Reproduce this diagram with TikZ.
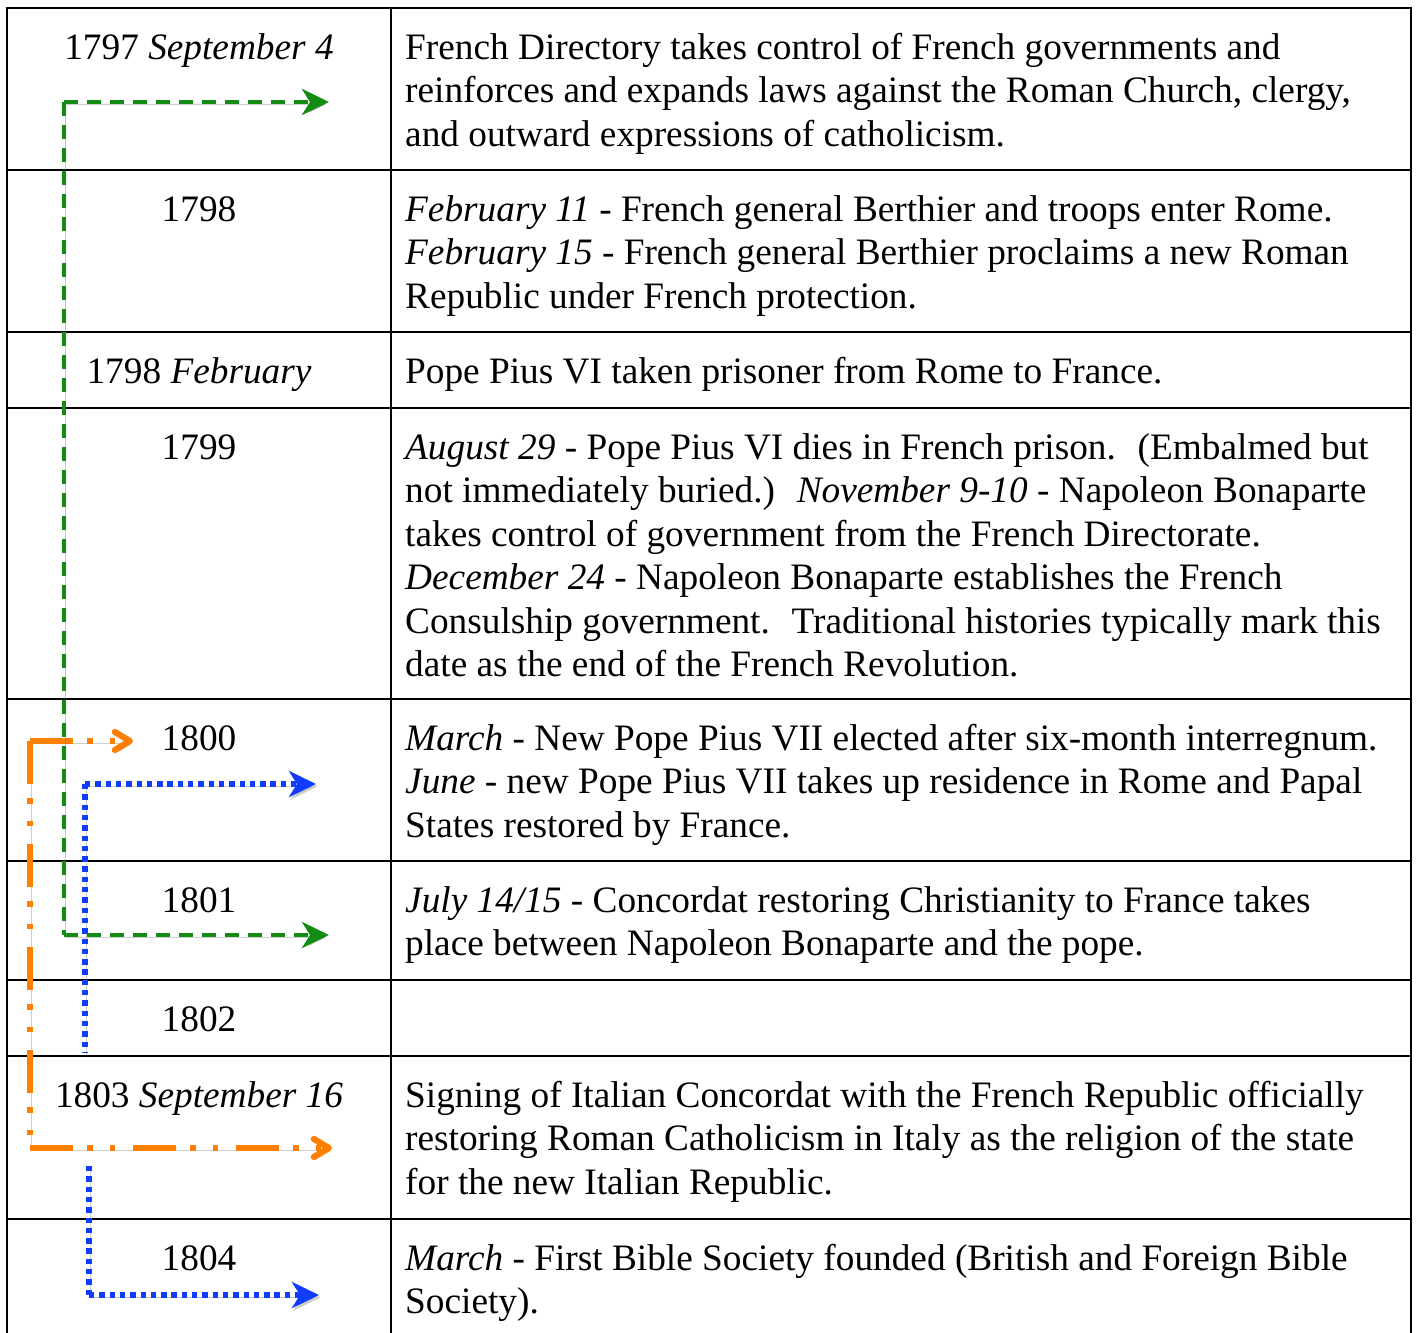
\documentclass[tikz,border=0pt]{standalone}
\usepackage{fontspec}
\setmainfont{Liberation Serif}
\usetikzlibrary{arrows.meta}
\definecolor{cgreen}{RGB}{18,140,18}
\definecolor{corange}{RGB}{255,128,0}
\definecolor{cblue}{RGB}{15,60,255}
\tikzset{
  txt/.style={anchor=base west, inner sep=0pt, font=\fontsize{37.3}{43.5}\selectfont},
  yr/.style={anchor=base, inner sep=0pt, font=\fontsize{37.3}{43.5}\selectfont},
  gridline/.style={line width=2.4pt, black},
  shad/.style={preaction={draw=black!55, opacity=0.35, transform canvas={shift={(1.5pt,-2.5pt)}}}},
  gconn/.style={cgreen, line width=4.6pt, dash pattern=on 13.5pt off 9.5pt, shad},
  oconn/.style={corange, line width=6.2pt, dash pattern=on 43pt off 14pt on 5.5pt off 17pt on 5.5pt off 18pt, shad},
  bconn/.style={cblue, line width=5.6pt, dash pattern=on 5.4pt off 4.9pt, shad},
  gtip/.style={-{Stealth[length=27pt,width=26pt,inset=8pt]}},
  btip/.style={-{Stealth[length=27pt,width=26pt,inset=8pt]}},
  otip/.style={-{Straight Barb[length=15pt,width=18pt,round]}},
}
\begin{document}
\begin{tikzpicture}[x=1pt,y=-1pt]
\useasboundingbox (0,0) rectangle (1417,1333);
% grid
\foreach \yy in {8,170,332,408,699,861,980,1056,1219}
  \draw[gridline] (5.8,\yy) -- (1412.2,\yy);
\foreach \xx in {7,391,1411}
  \draw[gridline] (\xx,8) -- (\xx,1334);

% years
\node[yr] (y1) at (199,59) {1797 \textit{September 4}};
\node[yr] (y2) at (199,221) {1798};
\node[yr] (y3) at (199,383) {1798 \textit{February}};
\node[yr] (y4) at (199,459) {1799};
\node[yr] (y5) at (199,750) {1800};
\node[yr] (y6) at (199,912) {1801};
\node[yr] (y7) at (199,1031) {1802};
\node[yr] (y8) at (199,1107) {1803 \textit{September 16}};
\node[yr] (y9) at (199,1270) {1804};

% events
\node[txt] (t1a) at (405,59) {French Directory takes control of French governments and};
\node[txt] (t1b) at (405,102.5) {reinforces and expands laws against the Roman Church, clergy,};
\node[txt] (t1c) at (405,146) {and outward expressions of catholicism.};

\node[txt] (t2a) at (405,221) {\textit{February 11} - French general Berthier and troops enter Rome.};
\node[txt] (t2b) at (405,264.5) {\textit{February 15} - French general Berthier proclaims a new Roman};
\node[txt] (t2c) at (405,308) {Republic under French protection.};

\node[txt] (t3a) at (405,383) {Pope Pius VI taken prisoner from Rome to France.};

\node[txt] (t4a) at (405,459) {\textit{August 29} - Pope Pius VI dies in French prison.~ (Embalmed but};
\node[txt] (t4b) at (405,502.5) {not immediately buried.)~ \textit{November 9-10} - Napoleon Bonaparte};
\node[txt] (t4c) at (405,546) {takes control of government from the French Directorate.};
\node[txt] (t4d) at (405,589.5) {\textit{December 24} - Napoleon Bonaparte establishes the French};
\node[txt] (t4e) at (405,633) {Consulship government.~ Traditional histories typically mark this};
\node[txt] (t4f) at (405,676.5) {date as the end of the French Revolution.};

\node[txt] (t5a) at (405,750) {\textit{March} - New Pope Pius VII elected after six-month interregnum.};
\node[txt] (t5b) at (405,793.5) {\textit{June} - new Pope Pius VII takes up residence in Rome and Papal};
\node[txt] (t5c) at (405,837) {States restored by France.};

\node[txt] (t6a) at (405,912) {\textit{July 14/15} - Concordat restoring Christianity to France takes};
\node[txt] (t6b) at (405,955.5) {place between Napoleon Bonaparte and the pope.};

\node[txt] (t8a) at (405,1107) {Signing of Italian Concordat with the French Republic officially};
\node[txt] (t8b) at (405,1150.5) {restoring Roman Catholicism in Italy as the religion of the state};
\node[txt] (t8c) at (405,1194) {for the new Italian Republic.};

\node[txt] (t9a) at (405,1270) {\textit{March} - First Bible Society founded (British and Foreign Bible};
\node[txt] (t9b) at (405,1313.5) {Society).};

% connector points
\coordinate (g1) at (64,102);
\coordinate (gt) at (329,102);
\coordinate (g2) at (64,935);
\coordinate (gb) at (329,935);
\coordinate (o1) at (30,741);
\coordinate (ot) at (133,741);
\coordinate (o2) at (30,1148);
\coordinate (ob) at (332,1148);
\coordinate (b1) at (85,784);
\coordinate (bt) at (316,784);
\coordinate (b2) at (85,1052);
\coordinate (b3) at (89,1166);
\coordinate (b4) at (89,1295);
\coordinate (bb) at (319,1295);

% orange connector
\draw[oconn] (o1) -- (o2);
\draw[oconn, otip] (o1) -- (ot);
\draw[oconn, otip] (o2) -- (ob);
% green connector
\draw[gconn] (g1) -- (g2);
\draw[gconn, gtip] (g1) -- (gt);
\draw[gconn, gtip] (g2) -- (gb);
% blue connectors
\draw[bconn] (b1) -- (b2);
\draw[bconn, btip] (b1) -- (bt);
\draw[bconn] (b3) -- (b4);
\draw[bconn, btip] (b4) -- (bb);
\end{tikzpicture}
\end{document}
